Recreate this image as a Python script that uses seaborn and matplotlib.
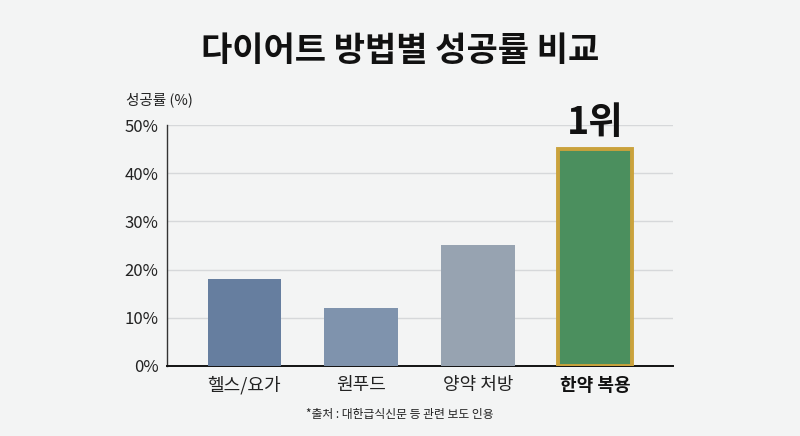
import matplotlib
matplotlib.use("Agg")
import matplotlib.pyplot as plt
import seaborn as sns
import pandas as pd

categories = ["헬스/요가", "원푸드", "양약 처방", "한약 복용"]
values = [18, 12, 25, 45]
bar_colors = ["#667e9f", "#7f93ad", "#97a3b1", "#4b8f5e"]
yticks = [0, 10, 20, 30, 40, 50]
ytick_labels = ["0%", "10%", "20%", "30%", "40%", "50%"]

sns.set_theme(style="white")
plt.rcParams['font.family'] = ['Noto Sans CJK KR', 'DejaVu Sans']

bg = "#f3f4f4"
fig = plt.figure(figsize=(8, 4.36), dpi=100, facecolor=bg)
ax = fig.add_axes([0.20875, 0.1606, 0.6325, 0.5527])
ax.set_facecolor(bg)

df = pd.DataFrame({"cat": categories, "val": values})
sns.barplot(data=df, x="cat", y="val", hue="cat", palette=bar_colors,
            legend=False, width=0.63, ax=ax, saturation=1, zorder=3,
            edgecolor="none", linewidth=0)

patch = ax.patches[3]
patch.set_edgecolor("#caa23c")
patch.set_linewidth(2.8)

ax.set_ylim(0, 50)
ax.set_xlim(-0.662, 3.667)
ax.set_yticks(yticks)
ax.set_yticklabels(ytick_labels, fontsize=12, color="#222222")
ax.yaxis.grid(True, color="#d6d8da", linewidth=1.0, zorder=0)
ax.set_axisbelow(True)
ax.tick_params(axis="both", length=0)
ax.tick_params(axis="y", pad=6)
ax.tick_params(axis="x", pad=7)
ax.set_xlabel("")
ax.set_ylabel("")
ax.set_xticks(range(len(categories)))
ax.set_xticklabels(categories, fontsize=13, color="#222222", fontweight="medium")
ax.get_xticklabels()[3].set_fontweight("bold")
ax.get_xticklabels()[3].set_color("#111111")

for s in ["top", "right"]:
    ax.spines[s].set_visible(False)
ax.spines["left"].set_color("#333333")
ax.spines["left"].set_linewidth(1.0)
ax.spines["bottom"].set_color("#111111")
ax.spines["bottom"].set_linewidth(1.4)

ax.text(3, values[3] + 5.5, "1위", ha="center", va="center",
        fontsize=27, fontweight="black", color="#111111")

fig.text(0.5, 0.885, "다이어트 방법별 성공률 비교", ha="center", va="center",
         fontsize=24.5, fontweight="black", color="#111111")
fig.text(0.157, 0.77, "성공률 (%)", ha="left", va="center",
         fontsize=10.5, color="#222222", fontweight="medium")
fig.text(0.5, 0.05, "*출처 : 대한급식신문 등 관련 보도 인용", ha="center", va="center",
         fontsize=8.5, color="#222222")

fig.savefig("out.png", dpi=100, facecolor=bg)
